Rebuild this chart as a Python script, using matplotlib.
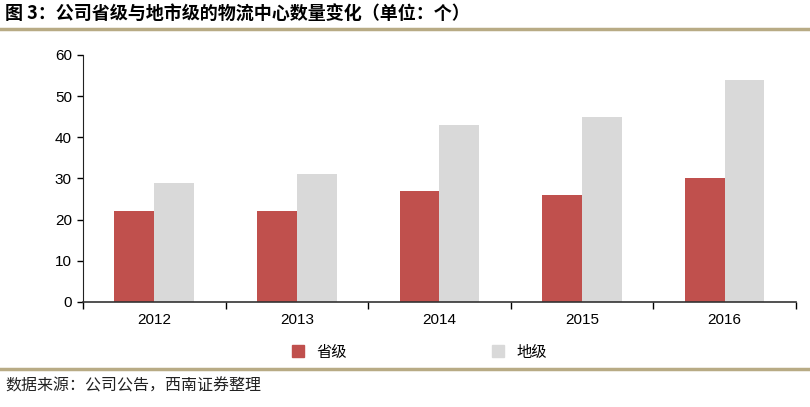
import matplotlib
matplotlib.use("Agg")
import numpy as np
import matplotlib.pyplot as plt
from matplotlib.lines import Line2D
from matplotlib.patches import Patch

plt.rcParams['font.family'] = ['Noto Sans CJK SC', 'DejaVu Sans']

years = ["2012", "2013", "2014", "2015", "2016"]
provincial = [22, 22, 27, 26, 30]
municipal = [29, 31, 43, 45, 54]
series_names = ["省级", "地级"]
title = "图 3：公司省级与地市级的物流中心数量变化（单位：个）"
source = "数据来源：公司公告，西南证券整理"

red = "#c0504d"
gray = "#d9d9d9"
rule = "#b8ab85"

fig = plt.figure(figsize=(8.10, 4.07), dpi=100)
fig.patch.set_facecolor("white")
ax = fig.add_axes([0.1025, 0.258, 0.880, 0.607])

x = np.arange(len(years))
w = 0.28
ax.bar(x - w / 2, provincial, w, color=red)
ax.bar(x + w / 2, municipal, w, color=gray)

ax.set_xlim(-0.5, len(years) - 0.5)
ax.set_ylim(0, 60)
ax.set_yticks(range(0, 61, 10))
ax.set_xticks(x)
ax.set_xticklabels(years, fontfamily="Liberation Sans")
ax.set_xticks(np.arange(-0.5, len(years)), minor=True)
ax.tick_params(axis="x", which="major", length=0, pad=8, labelsize=11)
ax.tick_params(axis="x", which="minor", length=5, width=1, direction="out")
ax.tick_params(axis="y", length=4, width=1, labelsize=11, pad=4)
for lab in ax.get_yticklabels():
    lab.set_fontfamily("Liberation Sans")
for s in ["top", "right"]:
    ax.spines[s].set_visible(False)
ax.spines["left"].set_color("#222222")
ax.spines["bottom"].set_color("#333333")
ax.spines["bottom"].set_linewidth(1.2)

handles = [Patch(color=red), Patch(color=gray)]
fig.legend(handles, series_names, loc="center", bbox_to_anchor=(0.518, 0.135),
           ncol=2, frameon=False, handlelength=0.8, handleheight=0.8,
           columnspacing=9.5, handletextpad=0.8, prop={"family": "Noto Sans CJK SC", "size": 11})

fig.text(0.006, 0.965, title, fontsize=13, fontweight="bold", va="center", ha="left")
fig.add_artist(Line2D([0, 1], [0.928, 0.928], transform=fig.transFigure, color=rule, lw=2.5))
fig.add_artist(Line2D([0, 1], [0.093, 0.093], transform=fig.transFigure, color=rule, lw=2.5))
fig.text(0.006, 0.052, source, fontsize=11.5, style="italic", va="center", ha="left", color="#222222")

fig.savefig("out.png", dpi=100)
